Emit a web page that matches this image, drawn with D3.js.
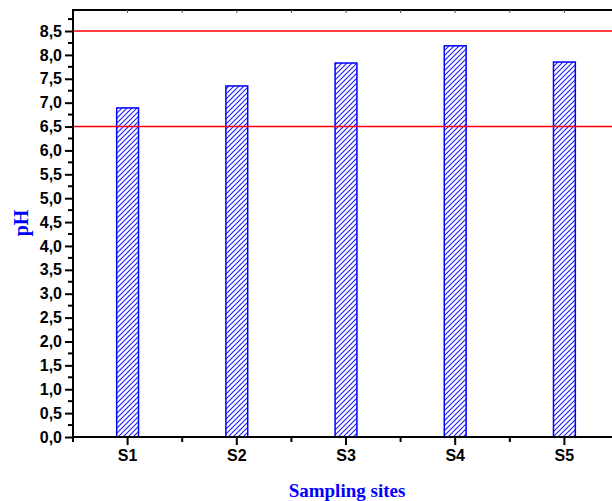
<!DOCTYPE html>
<html><head><meta charset="utf-8">
<script src="https://cdn.jsdelivr.net/npm/d3@7"></script>
<style>body{margin:0;background:#fff}svg{display:block}</style>
</head><body>
<script>
const categories = ["S1","S2","S3","S4","S5"];
const phValues = [6.89, 7.35, 7.83, 8.19, 7.85];
const limitLines = [6.5, 8.5];
const yTicks = d3.range(0, 8.51, 0.5);
const xTitle = "Sampling sites";
const yTitle = "pH";

const W = 612, H = 501;
const m = {left:73, top:10, bottom:437, right:619};
const svg = d3.select("body").append("svg").attr("width",W).attr("height",H);

const x = d3.scaleBand().domain(categories).range([m.left, m.right]).padding(0);
const y = d3.scaleLinear().domain([0, 8.94]).range([m.bottom, m.top]);

const defs = svg.append("defs");
const pat = defs.append("pattern").attr("id","hatch").attr("patternUnits","userSpaceOnUse")
  .attr("width",5).attr("height",5);
pat.append("rect").attr("width",5).attr("height",5).attr("fill","#fff");
pat.append("path").attr("d","M-1,6 L6,-1 M-1,1 L1,-1 M4,6 L6,4")
  .attr("stroke","#1a1aff").attr("stroke-width",1.1);

const bw = x.bandwidth()*0.2;
svg.selectAll("rect.bar").data(categories).enter().append("rect")
  .attr("class","bar")
  .attr("x", d => x(d)+x.bandwidth()/2 - bw/2)
  .attr("y", (d,i) => y(phValues[i]))
  .attr("width", bw)
  .attr("height", (d,i) => y(0)-y(phValues[i]))
  .attr("fill","url(#hatch)")
  .attr("stroke","#0000ff").attr("stroke-width",1.5);

// limit lines
svg.selectAll("line.lim").data(limitLines).enter().append("line")
  .attr("x1", m.left).attr("x2", W)
  .attr("y1", d => y(d)).attr("y2", d => y(d))
  .attr("stroke","#ff0000").attr("stroke-width",1.5);

const fmt = d => d3.format(".1f")(d).replace(".", ",");

// left axis
const yAxis = d3.axisLeft(y).tickValues(yTicks).tickFormat(fmt).tickSize(8).tickPadding(3);
const gy = svg.append("g").attr("transform",`translate(${m.left},0)`).call(yAxis);
gy.select(".domain").remove();
gy.selectAll(".tick line").attr("stroke","#000").attr("stroke-width",2);
gy.selectAll(".tick text").attr("font-family","Liberation Sans, Arial, sans-serif")
  .attr("font-weight","bold").attr("font-size",16).attr("fill","#000");
// minor y ticks
const yMinor = d3.range(0.25, 8.94, 0.5);
svg.selectAll("line.ymin").data(yMinor).enter().append("line")
  .attr("x1", m.left-5).attr("x2", m.left).attr("y1", d=>y(d)).attr("y2", d=>y(d))
  .attr("stroke","#000").attr("stroke-width",2);
svg.append("line").attr("x1",m.left).attr("x2",m.left).attr("y1",m.top-1).attr("y2",m.bottom+5)
  .attr("stroke","#000").attr("stroke-width",2);

// bottom axis
const xAxis = d3.axisBottom(x).tickSize(8).tickPadding(5);
const gx = svg.append("g").attr("transform",`translate(0,${m.bottom})`).call(xAxis);
gx.select(".domain").remove();
gx.selectAll(".tick line").attr("stroke","#000").attr("stroke-width",2);
gx.selectAll(".tick text").attr("font-family","Liberation Sans, Arial, sans-serif")
  .attr("font-weight","bold").attr("font-size",16).attr("fill","#000");
const xMinor = categories.slice(1).map(d => x(d));
svg.selectAll("line.xmin").data(xMinor).enter().append("line")
  .attr("x1", d=>d).attr("x2", d=>d).attr("y1", m.bottom).attr("y2", m.bottom+5)
  .attr("stroke","#000").attr("stroke-width",2);
svg.append("line").attr("x1",m.left).attr("x2",W).attr("y1",m.bottom).attr("y2",m.bottom)
  .attr("stroke","#000").attr("stroke-width",2);

// top axis
svg.append("line").attr("x1",m.left).attr("x2",W).attr("y1",m.top).attr("y2",m.top)
  .attr("stroke","#000").attr("stroke-width",2);
const topTicks = categories.map(d => x(d)+x.bandwidth()/2).concat(xMinor);
svg.selectAll("line.top").data(topTicks).enter().append("line")
  .attr("x1", d=>d).attr("x2", d=>d).attr("y1", m.top).attr("y2", m.top+3)
  .attr("stroke","#555").attr("stroke-width",1);

// titles
svg.append("text").attr("x", 347).attr("y", 497).attr("text-anchor","middle")
  .attr("font-family","Liberation Serif, Times New Roman, serif").attr("font-weight","bold")
  .attr("font-size",19).attr("fill","#0000ff").text(xTitle);
svg.append("text").attr("transform","translate(28,223) rotate(-90)").attr("text-anchor","middle")
  .attr("font-family","Liberation Serif, Times New Roman, serif").attr("font-weight","bold")
  .attr("font-size",20).attr("fill","#0000ff").text(yTitle);
</script>
</body></html>
